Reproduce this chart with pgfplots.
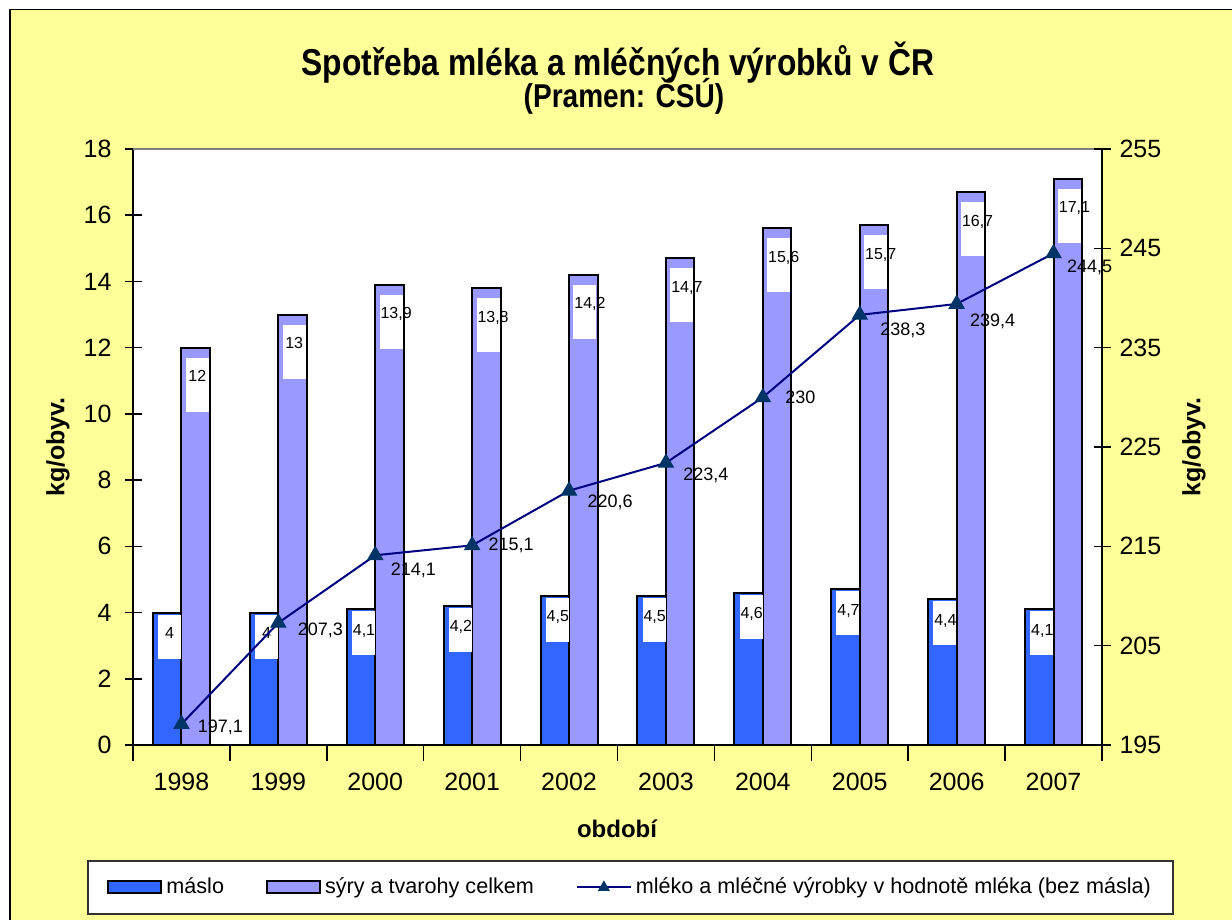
\documentclass[border=0pt]{standalone}
\usepackage{pgfplots}
\pgfplotsset{compat=1.18}
\usepackage{pgfplotstable}
\usepackage{fontspec}
\setmainfont{Liberation Sans}
\newfontfamily\titlefont[FakeStretch=0.85]{Liberation Sans}
\definecolor{bgyellow}{HTML}{FFFF99}
\definecolor{masloblue}{HTML}{3366FF}
\definecolor{syrylav}{HTML}{9999FF}
\definecolor{linenavy}{HTML}{000080}
\definecolor{markcol}{HTML}{003366}
\pgfplotsset{/pgf/number format/assume math mode=true, /pgf/number format/use comma}
\pgfplotsset{mylinelegend/.style={legend image code/.code={\draw[##1, mark size=3pt, mark repeat=2, mark phase=2] plot coordinates {(0pt,0pt) (13.5pt,0pt) (27pt,0pt)};}}}

\pgfplotstableread{
x maslo
0 4
1 4
2 4.1
3 4.2
4 4.5
5 4.5
6 4.6
7 4.7
8 4.4
9 4.1
}\maslodata

\pgfplotstableread{
x syry
0 12
1 13
2 13.9
3 13.8
4 14.2
5 14.7
6 15.6
7 15.7
8 16.7
9 17.1
}\syrydata

\pgfplotstableread{
x y dx dy
0 197.1 8 1.5
1 207.3 9.5 4
2 214.1 7.5 7.5
3 215.1 8 0
4 220.6 9 6
5 223.4 8.5 6
6 230 11 0
7 238.3 10 7.5
8 239.4 6.5 8.5
9 244.5 6.5 7
}\linedata

\begin{document}
\begin{tikzpicture}
\useasboundingbox (0,0) rectangle (616pt,460pt);
\fill[white] (0,0) rectangle (616pt,460pt);
\fill[bgyellow] (5pt,0) rectangle (616pt,455.3pt);
\draw[line width=0.75pt] (5pt,0) -- (5pt,455.3pt) -- (616pt,455.3pt);
% legend frame
\draw[fill=white, draw=black!80, line width=0.6pt] (44pt,3pt) rectangle (586.5pt,29.5pt);

% titles and labels
\node[anchor=base, font=\titlefont\bfseries\fontsize{18.7}{22}\selectfont] at (309pt,422pt) {Spotřeba mléka a mléčných výrobků v ČR};
\node[anchor=base, font=\titlefont\bfseries\fontsize{16.5}{20}\selectfont] at (312pt,406pt) {(Pramen: ČSÚ)};
\node[font=\bfseries\fontsize{12}{14}\selectfont] at (308.5pt,45.5pt) {období};
\node[rotate=90, font=\bfseries\fontsize{12.5}{15}\selectfont] at (29pt,236.5pt) {kg/obyv.};
\node[rotate=90, font=\bfseries\fontsize{12.5}{15}\selectfont] at (597pt,236.5pt) {kg/obyv.};

\begin{axis}[
  at={(66.5pt,87.5pt)}, anchor=south west,
  scale only axis, width=484.5pt, height=298pt,
  xmin=-0.5, xmax=9.5, ymin=0, ymax=18,
  axis x line*=bottom, axis y line*=left,
  axis line style={-, line width=0.75pt, black},
  axis background/.style={fill=white},
  ytick={0,2,...,18},
  xtick={0,...,9},
  xticklabels={1998,1999,2000,2001,2002,2003,2004,2005,2006,2007},
  minor xtick={-0.5,0.5,...,9.5},
  major x tick style={draw=none},
  minor x tick style={black, line width=0.75pt},
  y tick style={black, line width=0.75pt},
  tick align=center,
  major tick length=8.5pt, minor tick length=8pt,
  tick label style={font=\fontsize{12.5}{15}\selectfont},
  xticklabel style={yshift=-2pt},
  yticklabel style={xshift=-3pt},
  ybar=0pt, bar width=14.25pt,
  clip=false,
]
\draw[gray, line width=0.75pt] (rel axis cs:0,1) -- (rel axis cs:1,1);
\addplot[fill=masloblue, draw=black, line width=1pt,
  nodes near coords,
  every node near coord/.append style={anchor=north, yshift=-0.5pt, xshift=1.2pt,
    fill=white, draw=none, text=black, inner xsep=0.5pt, inner ysep=1pt,
    text width=10.5pt, align=center, text height=11pt, text depth=9pt,
    font=\fontsize{8}{9}\selectfont}]
  table[x=x, y=maslo] {\maslodata};
\addplot[fill=syrylav, draw=black, line width=1pt,
  nodes near coords,
  every node near coord/.append style={anchor=north, yshift=-4.5pt, xshift=0.8pt,
    fill=white, draw=none, text=black, inner xsep=0.5pt, inner ysep=1pt,
    text width=10.5pt, align=center, text height=11pt, text depth=14pt,
    font=\fontsize{8}{9}\selectfont}]
  table[x=x, y=syry] {\syrydata};
\end{axis}

\begin{axis}[
  at={(66.5pt,87.5pt)}, anchor=south west,
  scale only axis, width=484.5pt, height=298pt,
  xmin=-0.5, xmax=9.5, ymin=195, ymax=255,
  axis y line*=right, axis x line=none,
  axis line style={-, line width=0.75pt, black},
  ytick={195,205,...,255},
  y tick style={black, line width=0.75pt},
  tick align=center,
  major tick length=8.5pt,
  tick label style={font=\fontsize{12.5}{15}\selectfont},
  yticklabel style={xshift=1pt},
  clip=false,
  legend columns=3,
  legend style={draw=none, fill=none,
    at={(axis description cs:-0.033,-0.239)}, anchor=west,
    font=\fontsize{10.8}{13}\selectfont,
    /tikz/every even column/.append style={column sep=19pt}},
]
\addlegendimage{legend image code/.code={\draw[fill=masloblue,draw=black,line width=1pt] (0pt,-3pt) rectangle (26.5pt,3pt);}}
\addlegendentry{máslo}
\addlegendimage{legend image code/.code={\draw[fill=syrylav,draw=black,line width=1pt] (0pt,-3pt) rectangle (26.5pt,3pt);}}
\addlegendentry{sýry a tvarohy celkem}
\addplot[color=linenavy, line width=1pt, mark=triangle*, mark size=4.3pt,
  mark options={fill=markcol, draw=markcol, line width=0.5pt},
  mylinelegend,
  visualization depends on={\thisrow{dx} \as \ldx},
  visualization depends on={\thisrow{dy} \as \ldy},
  nodes near coords,
  every node near coord/.append style={anchor=west, inner sep=0pt,
    xshift=\ldx pt, yshift=-\ldy pt, text=black,
    font=\fontsize{9}{11}\selectfont}]
  table[x=x, y=y] {\linedata};
\addlegendentry{mléko a mléčné výrobky v hodnotě mléka (bez másla)}
\end{axis}
\end{tikzpicture}
\end{document}
